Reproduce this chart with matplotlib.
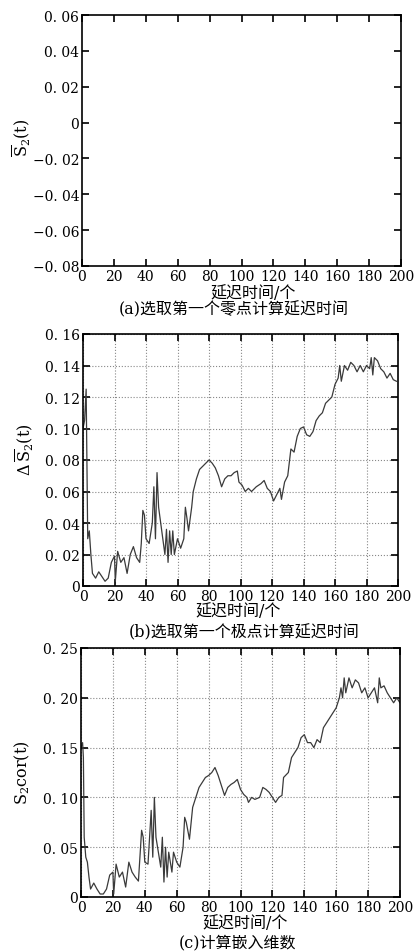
import numpy as np
import matplotlib
matplotlib.use('Agg')
import matplotlib.pyplot as plt
from matplotlib.ticker import FuncFormatter, MultipleLocator

plt.rcParams['font.family'] = ['DejaVu Serif', 'Noto Sans CJK SC']
plt.rcParams['mathtext.fontset'] = 'dejavuserif'

# Panel (b): delta S2 mean vs delay
delay_b = [0, 1, 2, 3, 4, 5, 6, 8, 10, 12, 14, 16, 18, 20, 20.5, 22, 24, 26, 28, 30,
           32, 34, 36, 37, 38, 39, 40, 42, 44, 45, 46, 47, 48, 50, 52, 53, 54, 55, 56,
           57, 58, 60, 62, 64, 65, 66, 67, 69, 70, 72, 74, 76, 78, 80, 82, 84, 86, 88,
           90, 92, 94, 96, 98, 99, 101, 103, 105, 107, 110, 113, 115, 117, 119, 121,
           123, 125, 126, 128, 130, 132, 134, 136, 138, 140, 142, 144, 146, 148, 150,
           152, 154, 156, 158, 160, 162, 163, 164, 166, 168, 170, 172, 174, 176, 178,
           180, 182, 183, 184, 185, 187, 189, 191, 193, 195, 197, 199]
delta_s2 = [0.100, 0.105, 0.125, 0.030, 0.035, 0.020, 0.008, 0.005, 0.009, 0.006, 0.003,
            0.005, 0.015, 0.019, 0.003, 0.022, 0.015, 0.018, 0.008, 0.020, 0.025, 0.018,
            0.015, 0.027, 0.048, 0.045, 0.030, 0.027, 0.040, 0.063, 0.030, 0.072, 0.050,
            0.035, 0.020, 0.036, 0.015, 0.035, 0.020, 0.035, 0.020, 0.030, 0.024, 0.030,
            0.050, 0.043, 0.035, 0.050, 0.060, 0.068, 0.074, 0.076, 0.078, 0.080, 0.078,
            0.075, 0.070, 0.063, 0.068, 0.070, 0.070, 0.072, 0.073, 0.066, 0.064, 0.060,
            0.062, 0.060, 0.063, 0.065, 0.067, 0.062, 0.060, 0.054, 0.058, 0.062, 0.055,
            0.066, 0.070, 0.087, 0.085, 0.095, 0.100, 0.101, 0.096, 0.095, 0.098, 0.105,
            0.108, 0.110, 0.116, 0.118, 0.120, 0.128, 0.132, 0.140, 0.130, 0.140, 0.137,
            0.142, 0.140, 0.136, 0.140, 0.136, 0.140, 0.138, 0.145, 0.134, 0.145, 0.143,
            0.138, 0.136, 0.132, 0.135, 0.131, 0.130]

# Panel (c): S2 cor vs delay
delay_c = [0, 1, 1.5, 2, 3, 4, 5, 6, 8, 10, 12, 14, 16, 18, 20, 20.5, 22, 24, 26, 28,
           30, 32, 34, 36, 38, 39, 40, 42, 44, 45, 46, 47, 48, 50, 51, 52, 53, 54, 55,
           57, 58, 60, 62, 64, 65, 66, 68, 70, 72, 74, 76, 78, 80, 82, 84, 86, 88, 90,
           92, 94, 96, 98, 100, 102, 104, 105, 107, 109, 112, 114, 116, 118, 120, 122,
           124, 126, 127, 130, 132, 134, 136, 138, 140, 142, 144, 146, 148, 150, 152,
           154, 156, 158, 160, 162, 163, 164, 165, 166, 168, 170, 172, 174, 176, 178,
           180, 182, 184, 186, 187, 188, 190, 192, 194, 196, 198, 200]
s2_cor = [0.150, 0.155, 0.140, 0.060, 0.040, 0.035, 0.020, 0.008, 0.014, 0.008, 0.003,
          0.003, 0.008, 0.022, 0.025, 0.003, 0.033, 0.020, 0.025, 0.010, 0.035, 0.025,
          0.020, 0.016, 0.067, 0.060, 0.035, 0.033, 0.087, 0.040, 0.100, 0.060, 0.050,
          0.030, 0.060, 0.015, 0.050, 0.020, 0.045, 0.025, 0.045, 0.035, 0.030, 0.050,
          0.080, 0.075, 0.058, 0.090, 0.100, 0.110, 0.115, 0.120, 0.122, 0.125, 0.130,
          0.122, 0.112, 0.102, 0.110, 0.113, 0.115, 0.118, 0.108, 0.103, 0.100, 0.095,
          0.100, 0.098, 0.100, 0.110, 0.108, 0.105, 0.100, 0.095, 0.100, 0.102, 0.120,
          0.125, 0.140, 0.145, 0.150, 0.160, 0.163, 0.155, 0.155, 0.150, 0.158, 0.155,
          0.170, 0.175, 0.180, 0.185, 0.190, 0.200, 0.210, 0.200, 0.220, 0.205, 0.220,
          0.210, 0.218, 0.215, 0.205, 0.210, 0.200, 0.205, 0.210, 0.195, 0.220, 0.210,
          0.212, 0.205, 0.200, 0.195, 0.200, 0.195]

xticks = np.arange(0, 201, 20)
W, H = 417, 953


def tick_fmt(v, pos):
    if abs(v) < 1e-9:
        return '0'
    s = '%.2f' % abs(v)
    s = s.replace('.', '. ')
    return ('\u2212' + s) if v < 0 else s


def setup_axes(ax, ymin, ymax, ystep, grid):
    ax.set_xlim(0, 200)
    ax.set_ylim(ymin, ymax)
    ax.set_xticks(xticks)
    ax.yaxis.set_major_locator(MultipleLocator(ystep))
    ax.yaxis.set_major_formatter(FuncFormatter(tick_fmt))
    ax.tick_params(direction='in', top=True, right=True, length=5, width=1.2,
                   labelsize=10, pad=2)
    for sp in ax.spines.values():
        sp.set_linewidth(1.2)
    if grid:
        ax.grid(True, linestyle=':', color='#888888', linewidth=0.8)


def px_axes(left, top, right, bottom):
    return [left / W, (H - bottom) / H, (right - left) / W, (bottom - top) / H]


fig = plt.figure(figsize=(W / 100, H / 100), dpi=100)
fig.patch.set_facecolor('white')

# (a)
ax_a = fig.add_axes(px_axes(82, 16, 401, 267))
setup_axes(ax_a, -0.08, 0.06, 0.02, False)
fig.text(22 / W, 1 - 138 / H, r'$\overline{\mathrm{S}}_2\mathrm{(t)}$', rotation=90,
         ha='center', va='center', fontsize=11.5)
fig.text(253 / W, 1 - 293 / H, '延迟时间/个', ha='center', va='center', fontsize=11.5)
fig.text(234 / W, 1 - 310 / H, '(a)选取第一个零点计算延迟时间', ha='center', va='center',
         fontsize=11.5)

# (b)
ax_b = fig.add_axes(px_axes(83, 335, 398, 587))
setup_axes(ax_b, 0, 0.16, 0.02, True)
ax_b.plot(delay_b, delta_s2, color='#3a3a3a', linewidth=0.9)
fig.text(25 / W, 1 - 450 / H, r'$\Delta\,\overline{\mathrm{S}}_2\mathrm{(t)}$', rotation=90,
         ha='center', va='center', fontsize=11.5)
fig.text(238 / W, 1 - 612 / H, '延迟时间/个', ha='center', va='center', fontsize=11.5)
fig.text(244 / W, 1 - 633 / H, '(b)选取第一个极点计算延迟时间', ha='center', va='center',
         fontsize=11.5)

# (c)
ax_c = fig.add_axes(px_axes(81, 649, 400, 898))
setup_axes(ax_c, 0, 0.25, 0.05, True)
ax_c.plot(delay_c, s2_cor, color='#3a3a3a', linewidth=0.9)
fig.text(22 / W, 1 - 773 / H, r'$\mathrm{S_2cor(t)}$', rotation=90,
         ha='center', va='center', fontsize=11.5)
fig.text(245 / W, 1 - 924 / H, '延迟时间/个', ha='center', va='center', fontsize=11.5)
fig.text(237 / W, 1 - 943 / H, '(c)计算嵌入维数', ha='center', va='center', fontsize=11.5)

fig.savefig('out.png', dpi=100)
